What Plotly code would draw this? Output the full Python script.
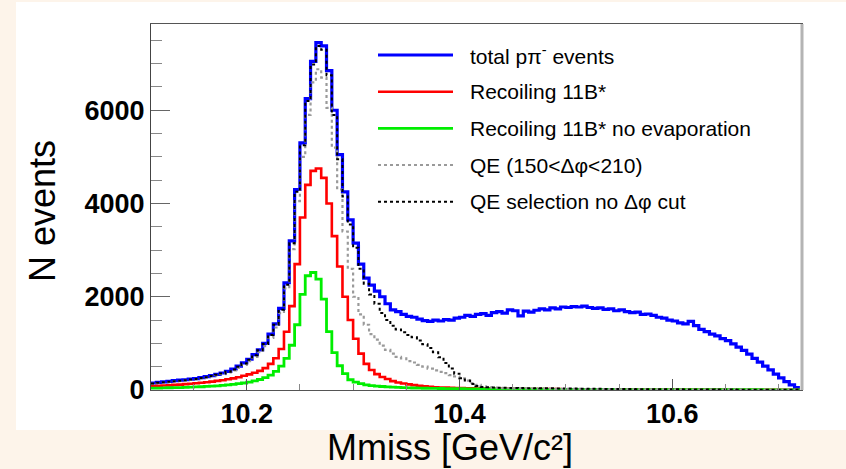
import numpy as np
import plotly.graph_objects as go

# ---------------- data (histogram bin contents) ----------------
bin_lo = 10.11
bin_width = 0.005

total_counts = [150, 165, 175, 185, 200, 210, 220, 235, 245, 265,
                285, 310, 335, 365, 400, 450, 510, 580, 660, 760,
                860, 1000, 1200, 1420, 1750, 2300, 3200, 4300, 5300, 6250,
                7050, 7450, 7380, 6850, 6000, 5050, 4250, 3650, 3150, 2700,
                2400, 2250, 2120, 2000, 1850, 1720, 1680, 1620, 1580, 1560,
                1520, 1490, 1470, 1500, 1480, 1510, 1500, 1540, 1560, 1600,
                1580, 1620, 1640, 1600, 1660, 1680, 1650, 1720, 1700, 1590,
                1690, 1670, 1710, 1740, 1720, 1760, 1740, 1780, 1770, 1790,
                1780, 1800, 1770, 1750, 1760, 1730, 1740, 1700, 1720, 1680,
                1660, 1670, 1620, 1630, 1600, 1560, 1540, 1500, 1480, 1440,
                1420, 1470, 1380, 1300, 1250, 1200, 1160, 1100, 1060, 990,
                920, 850, 770, 680, 600, 510, 430, 340, 260, 180,
                110, 50]

recoil_counts = [85, 90, 95, 100, 110, 115, 125, 135, 145, 155,
                 165, 180, 195, 210, 230, 250, 275, 305, 335, 370,
                 410, 470, 560, 680, 880, 1250, 1800, 2700, 3700, 4400,
                 4700, 4750, 4550, 4000, 3300, 2650, 2000, 1500, 1100, 780,
                 560, 430, 340, 280, 235, 190, 160, 140, 120, 105,
                 90, 80, 70, 60, 55, 50, 45, 42, 40, 38,
                 35, 33, 31, 30, 28, 27, 26, 25, 24, 23,
                 22, 21, 20, 20, 19, 18, 18, 17, 17, 16,
                 16, 15, 15, 14, 14, 13, 13, 12, 12, 12,
                 11, 11, 11, 10, 10, 10, 9, 9, 9, 9,
                 8, 8, 8, 8, 7, 7, 7, 7, 6, 6,
                 6, 6, 5, 5, 5, 5, 4, 4, 4, 3,
                 3, 3]

noevap_counts = [40, 42, 45, 48, 50, 53, 56, 60, 65, 70,
                 76, 83, 90, 100, 110, 122, 135, 150, 170, 195,
                 225, 265, 320, 400, 510, 680, 960, 1400, 2050, 2450,
                 2520, 2380, 1950, 1250, 800, 520, 350, 220, 170, 135,
                 110, 95, 85, 75, 68, 60, 55, 50, 46, 43,
                 40, 38, 36, 34, 32, 30, 29, 28, 27, 26,
                 25, 24, 23, 22, 21, 20, 20, 19, 18, 18,
                 17, 17, 16, 16, 15, 15, 14, 14, 13, 13,
                 13, 12, 12, 12, 11, 11, 11, 10, 10, 10,
                 10, 9, 9, 9, 9, 8, 8, 8, 8, 8,
                 7, 7, 7, 7, 7, 6, 6, 6, 6, 6,
                 5, 5, 5, 5, 5, 4, 4, 4, 4, 4,
                 3, 3]

qe_cut_counts = [130, 145, 155, 165, 180, 190, 200, 215, 225, 245,
                 265, 290, 315, 340, 375, 420, 475, 540, 620, 710,
                 810, 940, 1120, 1340, 1650, 2180, 3020, 4050, 5000, 5900,
                 6600, 6880, 6700, 6050, 5200, 4300, 3400, 2600, 2000, 1620,
                 1400, 1200, 1080, 950, 860, 780, 710, 680, 620, 590,
                 540, 500, 460, 420, 390, 360, 320, 290, 250, 200,
                 150, 110, 80, 60, 50, 45, 40, 38, 36, 35,
                 33, 32, 30, 29, 28, 27, 26, 25, 24, 23,
                 22, 21, 20, 20, 19, 18, 17, 17, 16, 15,
                 15, 14, 14, 13, 13, 12, 12, 11, 11, 10,
                 10, 9, 9, 9, 8, 8, 7, 7, 7, 6,
                 6, 6, 5, 5, 5, 4, 4, 4, 3, 3,
                 3, 2]

qe_nocut_counts = [140, 155, 165, 175, 190, 200, 210, 225, 235, 255,
                   275, 300, 325, 355, 390, 440, 500, 570, 650, 745,
                   850, 985, 1180, 1400, 1720, 2260, 3150, 4250, 5250, 6200,
                   6980, 7380, 7300, 6750, 5900, 4950, 4150, 3550, 3050, 2600,
                   2280, 2050, 1850, 1650, 1500, 1380, 1300, 1240, 1180, 1130,
                   1060, 980, 900, 810, 700, 580, 460, 350, 250, 205,
                   130, 85, 65, 58, 55, 50, 48, 45, 45, 42,
                   40, 40, 38, 36, 35, 35, 33, 32, 30, 30,
                   28, 27, 26, 25, 25, 24, 22, 22, 20, 20,
                   20, 18, 18, 17, 16, 16, 15, 15, 14, 14,
                   13, 13, 12, 12, 11, 11, 10, 10, 9, 9,
                   8, 8, 7, 7, 6, 6, 5, 5, 4, 4,
                   3, 3]

legend_labels = ["total p\u03c0<sup>-</sup> events",
                 "Recoiling 11B*",
                 "Recoiling 11B* no evaporation",
                 "QE (150<\u0394\u03c6<210)",
                 "QE selection no \u0394\u03c6 cut"]

y_tick_vals = [0, 2000, 4000, 6000]
x_tick_vals = [10.2, 10.4, 10.6]

# ---------------- figure ----------------
W, H = 846, 469
L, R, T, B = 151, 802, 24, 390  # plot-area pixel box
FONT = "Liberation Sans, Arial, Helvetica, sans-serif"

n_bins = len(total_counts)
edges = bin_lo + bin_width * np.arange(n_bins + 1)


def step_y(counts):
    return list(counts) + [counts[-1]]


series = [
    (total_counts, "#0000FF", 3.2, "solid"),
    (recoil_counts, "#FF0000", 2.6, "solid"),
    (noevap_counts, "#00EE00", 2.8, "solid"),
    (qe_cut_counts, "#9A9A9A", 2.2, "dot"),
    (qe_nocut_counts, "#000000", 2.0, "dot"),
]

fig = go.Figure()
for (counts, color, width, dash), name in zip(series, legend_labels):
    fig.add_trace(go.Scatter(
        x=edges, y=step_y(counts), mode="lines", name=name,
        line=dict(color=color, width=width, dash=dash, shape="hv"),
        showlegend=False, hoverinfo="skip"))


def px_x(p):
    return (p - L) / (R - L)


def px_y(p):
    return (B - p) / (B - T)


shapes = []
# white panel behind the plot (outer background is peach)
shapes.append(dict(type="rect", xref="paper", yref="paper",
                   x0=px_x(16), x1=px_x(846), y0=px_y(430), y1=px_y(2),
                   fillcolor="white", line=dict(width=0), layer="below"))
# right frame edge (light gray, thicker)
shapes.append(dict(type="line", xref="paper", yref="paper",
                   x0=1, x1=1, y0=0, y1=1,
                   line=dict(color="#B4B4B4", width=3), layer="above"))

annotations = []
# manual legend
leg_rows = [55, 91.7, 128.3, 165, 201.7]
for (counts, color, width, dash), name, ry in zip(series, legend_labels, leg_rows):
    shapes.append(dict(type="line", xref="paper", yref="paper",
                       x0=px_x(378), x1=px_x(453), y0=px_y(ry), y1=px_y(ry),
                       line=dict(color=color, width=width, dash=dash)))
    annotations.append(dict(xref="paper", yref="paper", x=px_x(468), y=px_y(ry),
                            xanchor="left", yanchor="middle", showarrow=False,
                            text=name, font=dict(family=FONT, size=21, color="black")))

# axis titles
annotations.append(dict(xref="paper", yref="paper", x=px_x(42), y=px_y(211),
                        xanchor="center", yanchor="middle", showarrow=False,
                        text="N events", textangle=-90,
                        font=dict(family=FONT, size=36, color="black")))
annotations.append(dict(xref="paper", yref="paper", x=px_x(450), y=px_y(447),
                        xanchor="center", yanchor="middle", showarrow=False,
                        text="Mmiss [GeV/c\u00b2]",
                        font=dict(family=FONT, size=36, color="black")))

fig.update_layout(
    width=W, height=H,
    margin=dict(l=L, r=W - R, t=T, b=H - B, pad=0),
    paper_bgcolor="#FDF4EA",
    plot_bgcolor="white",
    shapes=shapes,
    annotations=annotations,
    showlegend=False,
)

fig.update_xaxes(
    range=[10.11, 10.722], tickvals=x_tick_vals, ticktext=[f"{v:.1f}" for v in x_tick_vals],
    ticks="inside", ticklen=11, tickwidth=1, tickcolor="#555555",
    minor=dict(dtick=0.05, ticks="inside", ticklen=6, tickcolor="#888888", showgrid=False),
    showgrid=False, zeroline=False,
    showline=True, linecolor="#555555", linewidth=1, mirror=True,
    tickfont=dict(family=FONT, size=27, color="black", weight="bold"),
)
fig.update_yaxes(
    range=[0, 7850], tickvals=y_tick_vals, ticktext=[str(v) for v in y_tick_vals],
    ticks="inside", ticklen=19, tickwidth=1, tickcolor="#666666",
    minor=dict(dtick=500, ticks="inside", ticklen=11, tickcolor="#888888", showgrid=False),
    showgrid=False, zeroline=False,
    showline=True, linecolor="#444444", linewidth=1, mirror=True,
    tickfont=dict(family=FONT, size=27, color="black", weight="bold"),
)

fig.write_html("out.html")
